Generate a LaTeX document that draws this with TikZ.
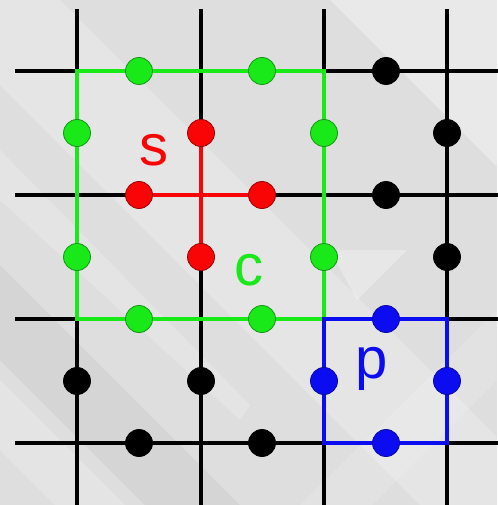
\documentclass[tikz,border=0pt]{standalone}
\usepackage{fontspec}
\setmainfont{Liberation Sans}
\definecolor{gcol}{RGB}{25,232,25}
\definecolor{rcol}{RGB}{250,5,5}
\definecolor{bcol}{RGB}{12,12,240}
\definecolor{bgbase}{RGB}{222,222,222}
\begin{document}
\begin{tikzpicture}[x=1pt,y=-1pt,
  blk/.style={line width=4.6pt,black},
  gline/.style={line width=4.6pt,gcol,line join=miter},
  rline/.style={line width=4.6pt,rcol},
  bline/.style={line width=4.6pt,bcol,line join=miter},
  dot/.style={circle,minimum size=27pt,inner sep=0pt,line width=0.8pt},
  gdot/.style={dot,fill=gcol,draw=gcol!65!black},
  rdot/.style={dot,fill=rcol,draw=rcol!60!black},
  bdot/.style={dot,fill=bcol,draw=bcol!70!black},
  kdot/.style={dot,fill=black,draw=black},
  lab/.style={font=\fontsize{58}{60}\selectfont,anchor=base,inner sep=0pt}
]
% background
\useasboundingbox (0,0) rectangle (497,505);
\fill[bgbase] (0,0) rectangle (497,505);
\begin{scope}
\clip (0,0) rectangle (497,505);
\fill[white,opacity=0.35] (0,0) -- (330,0) -- (497,167) -- (497,0) -- cycle;
\fill[white,opacity=0.22] (0,0) -- (60,0) -- (497,437) -- (497,505) -- (420,505) -- (0,85) -- cycle;
\fill[white,opacity=0.20] (0,150) -- (0,200) -- (240,420) -- (250,405) -- cycle;
\fill[black,opacity=0.04] (0,265) -- (0,360) -- (145,505) -- (240,505) -- cycle;
\fill[white,opacity=0.20] (0,380) -- (0,450) -- (55,505) -- (125,505) -- cycle;
\fill[white,opacity=0.30] (330,250) -- (407,250) -- (357,300) -- cycle;
\fill[white,opacity=0.15] (300,505) -- (497,310) -- (497,380) -- (372,505) -- cycle;
\end{scope}
% grid coordinates
\coordinate (g11) at (77,71);  \coordinate (g21) at (201,71);  \coordinate (g31) at (324,71);  \coordinate (g41) at (447,71);
\coordinate (g12) at (77,195); \coordinate (g22) at (201,195); \coordinate (g32) at (324,195); \coordinate (g42) at (447,195);
\coordinate (g13) at (77,319); \coordinate (g23) at (201,319); \coordinate (g33) at (324,319); \coordinate (g43) at (447,319);
\coordinate (g14) at (77,443); \coordinate (g24) at (201,443); \coordinate (g34) at (324,443); \coordinate (g44) at (447,443);
\coordinate (t1) at (77,9);  \coordinate (t2) at (201,9);  \coordinate (t3) at (324,9);  \coordinate (t4) at (447,9);
\coordinate (b1) at (77,506); \coordinate (b2) at (201,506); \coordinate (b3) at (324,506); \coordinate (b4) at (447,506);
\coordinate (l1) at (15,71); \coordinate (l2) at (15,195); \coordinate (l3) at (15,319); \coordinate (l4) at (15,443);
\coordinate (e1) at (498,71); \coordinate (e2) at (498,195); \coordinate (e3) at (498,319); \coordinate (e4) at (498,443);
% dot positions
\coordinate (rT) at (201,133); \coordinate (rB) at (201,257);
\coordinate (rL) at (139,195); \coordinate (rR) at (262,195);
% black lines
\draw[blk] (t1) -- (g11); \draw[blk] (g13) -- (b1);
\draw[blk] (t2) -- (rT);  \draw[blk] (rB) -- (b2);
\draw[blk] (t3) -- (g31); \draw[blk] (g34) -- (b3);
\draw[blk] (t4) -- (g43); \draw[blk] (g44) -- (b4);
\draw[blk] (l1) -- (g11); \draw[blk] (g31) -- (e1);
\draw[blk] (l2) -- (rL);  \draw[blk] (rR) -- (e2);
\draw[blk] (l3) -- (g13); \draw[blk] (g43) -- (e3);
\draw[blk] (l4) -- (g34); \draw[blk] (g44) -- (e4);
% coloured plaquettes
\draw[gline] (g11) -- (g31) -- (g33) -- (g13) -- cycle;
\draw[bline] (g33) -- (g43) -- (g44) -- (g34) -- cycle;
\draw[rline] (rT) -- (rB);
\draw[rline] (rL) -- (rR);
% green dots
\node[gdot] (gd1) at (139,71) {};
\node[gdot] (gd2) at (262,71) {};
\node[gdot] (gd3) at (77,133) {};
\node[gdot] (gd4) at (324,133) {};
\node[gdot] (gd5) at (77,257) {};
\node[gdot] (gd6) at (324,257) {};
\node[gdot] (gd7) at (139,319) {};
\node[gdot] (gd8) at (262,319) {};
% red dots
\node[rdot] (rd1) at (rT) {};
\node[rdot] (rd2) at (rB) {};
\node[rdot] (rd3) at (rL) {};
\node[rdot] (rd4) at (rR) {};
% blue dots
\node[bdot] (bd1) at (386,319) {};
\node[bdot] (bd2) at (324,381) {};
\node[bdot] (bd3) at (447,381) {};
\node[bdot] (bd4) at (386,443) {};
% black dots
\node[kdot] (kd1) at (386,71) {};
\node[kdot] (kd2) at (447,133) {};
\node[kdot] (kd3) at (386,195) {};
\node[kdot] (kd4) at (447,257) {};
\node[kdot] (kd5) at (77,381) {};
\node[kdot] (kd6) at (201,381) {};
\node[kdot] (kd7) at (139,443) {};
\node[kdot] (kd8) at (262,443) {};
% labels
\node[lab,text=rcol] (ls) at (154,165) {s};
\node[lab,text=gcol] (lc) at (249,285) {c};
\node[lab,text=bcol] (lp) at (372,378) {p};
\end{tikzpicture}
\end{document}
